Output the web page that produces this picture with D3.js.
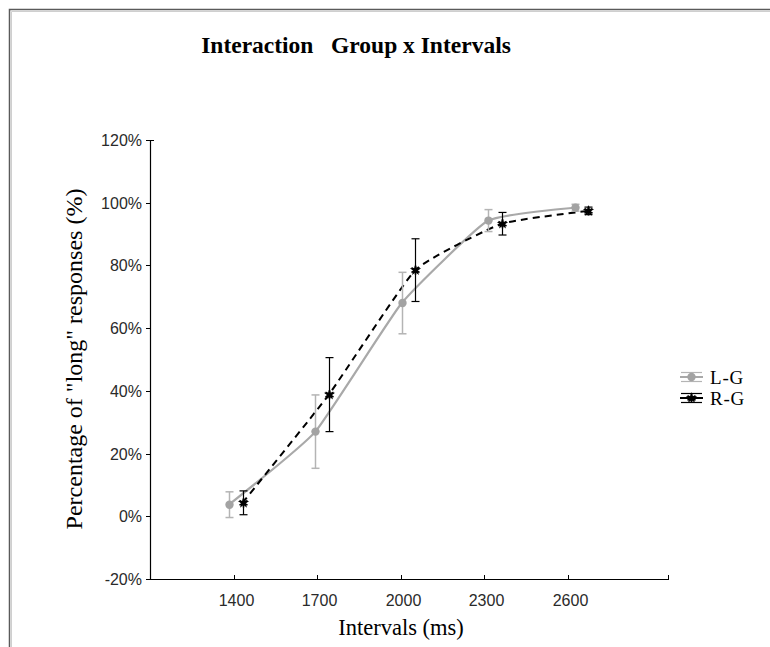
<!DOCTYPE html>
<html>
<head>
<meta charset="utf-8">
<script src="https://cdn.jsdelivr.net/npm/d3@7"></script>
<style>
  html, body { margin: 0; padding: 0; background: #fff; }
  svg { display: block; }
</style>
</head>
<body>
<div id="chart"></div>
<script>
// Intervals tested (ms) and the mean proportion of "long" responses per group
const intervals = [1400, 1700, 2000, 2300, 2600];
const seriesNames = ["L-G", "R-G"];
const lgMean = [0.037, 0.27, 0.68, 0.943, 0.984];
const lgErr  = [0.041, 0.117, 0.098, 0.035, 0.011];
const rgMean = [0.043, 0.388, 0.785, 0.933, 0.974];
const rgErr  = [0.038, 0.118, 0.10, 0.036, 0.012];
const yTicks = [-0.2, 0, 0.2, 0.4, 0.6, 0.8, 1.0, 1.2];
const xTicks = [1400, 1700, 2000, 2300, 2600];

const W = 770, H = 647;
const svg = d3.select("#chart").append("svg").attr("width", W).attr("height", H);

// outer frame
svg.append("path").attr("d", "M9.5,647 V9.5 H770").attr("fill", "none")
  .attr("stroke", "#5a5a5a").attr("stroke-width", 1.5);
svg.append("path").attr("d", "M11.5,647 V11.5 H770").attr("fill", "none")
  .attr("stroke", "#cfcfcf").attr("stroke-width", 1);

// scales
const y = d3.scaleLinear().domain([-0.2, 1.2]).range([579, 140]);
const xAxisScale = d3.scaleLinear().domain([1100, 2963]).range([150, 669]);
const xMarks = d3.scaleLinear().domain([1400, 2600]).range([236, 581.5]);
const dodge = { "L-G": -7, "R-G": 6.5 };

const series = [
  { name: seriesNames[0], mean: lgMean, err: lgErr, color: "#a9a9a9", barColor: "#b4b4b4", dash: null, width: 2.2 },
  { name: seriesNames[1], mean: rgMean, err: rgErr, color: "#000", barColor: "#000", dash: "7,5", width: 2 }
];
series.forEach(s => {
  s.points = intervals.map((iv, i) => ({ x: xMarks(iv) + dodge[s.name], m: s.mean[i], e: s.err[i] }));
});

const serif = "'Liberation Serif', 'Times New Roman', serif";
const sans = "'Liberation Sans', Arial, sans-serif";

// title
svg.append("text").attr("x", 356).attr("y", 53).attr("text-anchor", "middle")
  .attr("font-family", serif)
  .attr("font-weight", "bold").attr("font-size", 23.5)
  .style("white-space", "pre").attr("xml:space", "preserve")
  .text("Interaction   Group x Intervals");

// axes
const g = svg.append("g");
g.append("line").attr("x1", 150.5).attr("x2", 150.5).attr("y1", 140).attr("y2", 579.5)
  .attr("stroke", "#000").attr("stroke-width", 1.2);
g.append("line").attr("x1", 150).attr("x2", 669).attr("y1", 579.5).attr("y2", 579.5)
  .attr("stroke", "#000").attr("stroke-width", 1.2);

// y ticks + labels
const pct = v => (v < 0 ? "-" : "") + Math.round(Math.abs(v) * 100) + "%";
yTicks.forEach(t => {
  const yy = Math.round(y(t)) + 0.5;
  g.append("line").attr("x1", 146).attr("x2", 150.5).attr("y1", yy).attr("y2", yy).attr("stroke", "#000");
  g.append("text").attr("x", 142).attr("y", yy).attr("dy", "0.35em").attr("text-anchor", "end")
    .attr("font-family", sans).attr("font-size", 16)
    .attr("fill", "#2a2a2a").text(pct(t));
});
g.append("line").attr("x1", 150.5).attr("x2", 154).attr("y1", 140.5).attr("y2", 140.5).attr("stroke", "#000");

// x ticks + labels
xTicks.forEach(t => {
  const xx = Math.round(xAxisScale(t)) + 0.5;
  g.append("line").attr("x1", xx).attr("x2", xx).attr("y1", 579.5).attr("y2", 575).attr("stroke", "#000");
  g.append("text").attr("x", xx + 2).attr("y", 606).attr("text-anchor", "middle")
    .attr("font-family", sans).attr("font-size", 16)
    .attr("fill", "#2a2a2a").text(t);
});
g.append("line").attr("x1", 668.5).attr("x2", 668.5).attr("y1", 579.5).attr("y2", 575).attr("stroke", "#000");

// axis titles
svg.append("text").attr("x", 401).attr("y", 635).attr("text-anchor", "middle")
  .attr("font-family", serif).attr("font-size", 22.5)
  .text("Intervals (ms)");
svg.append("text").attr("transform", "translate(82,359) rotate(-90)").attr("text-anchor", "middle")
  .attr("font-family", serif).attr("font-size", 24)
  .text('Percentage of "long" responses (%)');

// lines
const line = d3.line().x(d => d.x).y(d => y(d.m)).curve(d3.curveCardinal.tension(0.6));
series.forEach(s => {
  svg.append("path").datum(s.points).attr("d", line).attr("fill", "none")
    .attr("stroke", s.color).attr("stroke-width", s.width)
    .attr("stroke-dasharray", s.dash);
});

// error bars
series.forEach(s => {
  const eg = svg.append("g").attr("stroke", s.barColor).attr("stroke-width", s.name === "L-G" ? 1.5 : 1.2);
  s.points.forEach(p => {
    const x0 = Math.round(p.x) + 0.5;
    eg.append("line").attr("x1", x0).attr("x2", x0).attr("y1", y(p.m + p.e)).attr("y2", y(p.m - p.e));
    [p.m + p.e, p.m - p.e].forEach(v => {
      eg.append("line").attr("x1", x0 - 4).attr("x2", x0 + 4).attr("y1", y(v)).attr("y2", y(v));
    });
  });
});

// markers
function drawMarker(sel, name, cx, cy) {
  if (name === "L-G") {
    sel.append("circle").attr("cx", cx).attr("cy", cy).attr("r", 4.2).attr("fill", "#a3a3a3");
  } else {
    sel.append("path").attr("transform", `translate(${cx},${cy})`)
      .attr("d", d3.symbol(d3.symbolStar, 40)()).attr("fill", "#000");
    sel.append("path").attr("transform", `translate(${cx},${cy})`)
      .attr("d", d3.symbol(d3.symbolAsterisk, 60)()).attr("fill", "none")
      .attr("stroke", "#000").attr("stroke-width", 1.6);
  }
}
series.forEach(s => {
  const mg = svg.append("g");
  s.points.forEach(p => drawMarker(mg, s.name, Math.round(p.x) + 0.5, y(p.m)));
});

// legend
const legend = svg.append("g");
series.forEach((s, i) => {
  const ly = 377 + i * 21;
  const lg = legend.append("g");
  lg.append("line").attr("x1", 680).attr("x2", 703).attr("y1", ly).attr("y2", ly)
    .attr("stroke", s.color).attr("stroke-width", 2);
  [ly - 4.5, ly + 4.5].forEach(yy => {
    lg.append("line").attr("x1", 681).attr("x2", 702).attr("y1", yy).attr("y2", yy)
      .attr("stroke", s.barColor).attr("stroke-width", 1.2);
  });
  lg.append("line").attr("x1", 691.5).attr("x2", 691.5).attr("y1", ly - 4.5).attr("y2", ly + 4.5)
    .attr("stroke", s.barColor).attr("stroke-width", 1.2);
  drawMarker(lg, s.name, 691.5, ly);
  lg.append("text").attr("x", 710).attr("y", ly).attr("dy", "0.35em")
    .attr("font-family", serif).attr("font-size", 19)
    .attr("letter-spacing", 0.8).text(s.name);
});
</script>
</body>
</html>
